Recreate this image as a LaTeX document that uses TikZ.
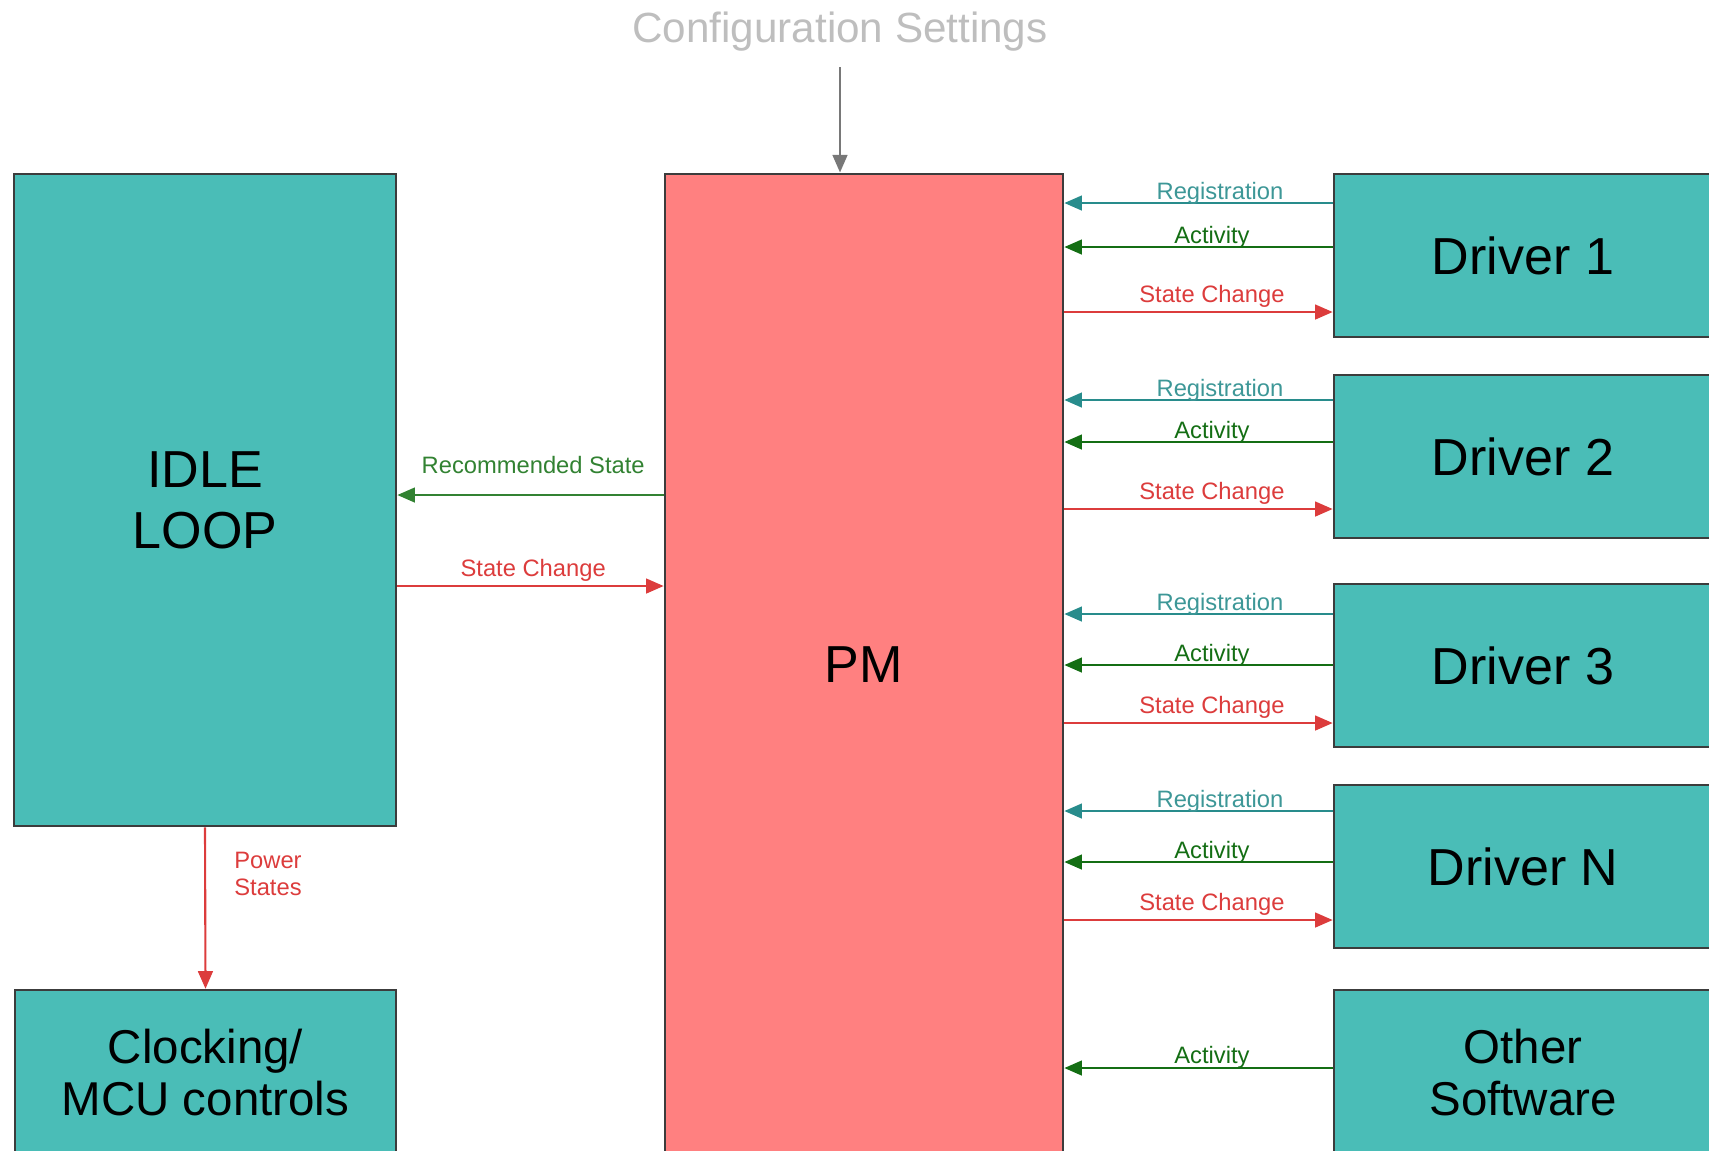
\documentclass[tikz,border=0pt]{standalone}
\usepackage{fontspec}
\setmainfont{Liberation Sans}
\usetikzlibrary{arrows.meta}
\definecolor{boxteal}{RGB}{74,189,183}
\definecolor{pmred}{RGB}{255,128,128}
\definecolor{boxline}{RGB}{60,60,60}
\definecolor{regcol}{RGB}{40,140,140}
\definecolor{actcol}{RGB}{20,110,20}
\definecolor{sccol}{RGB}{220,60,60}
\definecolor{reccol}{RGB}{50,130,50}
\definecolor{cfgcol}{RGB}{120,120,120}
\definecolor{cfgtext}{RGB}{190,190,190}
\tikzset{%
  block/.style  = {shape=rectangle, draw=boxline, line width=0.7pt,%
                   fill=boxteal, align=center, inner sep=0pt,%
                   font=\fontsize{14.8}{17.4}\selectfont},%
  pmblock/.style = {block, fill=pmred},%
  smallblock/.style = {block, font=\fontsize{13.5}{14.8}\selectfont},%
  lbl/.style    = {inner sep=0pt, anchor=base, font=\fontsize{6.75}{7.7}\selectfont},%
  flow/.style   = {line width=0.6pt, -{Triangle[length=5pt,width=4.2pt]}},%
  reg/.style    = {flow, draw=regcol},%
  act/.style    = {flow, draw=actcol},%
  sc/.style     = {flow, draw=sccol},%
  rec/.style    = {flow, draw=reccol}%
}

\begin{document}
\begin{tikzpicture}[x=0.01cm,y=-0.01cm]
	\path[use as bounding box, clip] (0,0) rectangle (1709,1150);
	\node [block, minimum width=3.82cm, minimum height=6.52cm] (idle) at (205,500) {IDLE\\LOOP};
	\node [smallblock, minimum width=3.81cm, minimum height=1.65cm] (clock) at (205.5,1072.5) {Clocking/\\MCU controls};
	\node [pmblock, minimum width=3.98cm, minimum height=9.82cm] (pm) at (864,665) {PM};
	\node [block, minimum width=3.78cm, minimum height=1.63cm] (drv1) at (1523,255.5) {Driver 1};
	\node [block, minimum width=3.78cm, minimum height=1.63cm] (drv2) at (1523,456.5) {Driver 2};
	\node [block, minimum width=3.78cm, minimum height=1.63cm] (drv3) at (1523,665.5) {Driver 3};
	\node [block, minimum width=3.78cm, minimum height=1.63cm] (drvn) at (1523,866.5) {Driver N};
	\node [smallblock, minimum width=3.78cm, minimum height=1.65cm] (other) at (1523,1072.5) {Other\\Software};
	\node [inner sep=0pt, anchor=base, text=cfgtext, font=\fontsize{12}{14}\selectfont] (config) at (840,42) {Configuration Settings};

	\draw [flow, draw=cfgcol] (config.south |- 0,67) -- (config.south |- pm.north);

	\foreach \d/\r/\a/\s in {drv1/203/247/312, drv2/400/442/509, drv3/614/665/723, drvn/811/862/920}{
		\draw [reg] (\d.west |- 0,\r) -- (pm.east |- 0,\r)
			node [lbl, pos=.42, yshift=1.1pt, text=regcol!90!white] {Registration};
		\draw [act] (\d.west |- 0,\a) -- (pm.east |- 0,\a)
			node [lbl, pos=.45, yshift=1.1pt, text=actcol] {Activity};
		\draw [sc] (pm.east |- 0,\s) -- (\d.west |- 0,\s)
			node [lbl, pos=.55, yshift=2.8pt, text=sccol] {State Change};
	}
	\draw [act] (other.west |- 0,1068) -- (pm.east |- 0,1068)
		node [lbl, pos=.45, yshift=1.4pt, text=actcol] {Activity};

	\draw [rec] (pm.west |- 0,495) -- (idle.east |- 0,495)
		node [lbl, pos=.49, yshift=6.2pt, text=reccol] {Recommended State};
	\draw [sc] (idle.east |- 0,586) -- (pm.west |- 0,586)
		node [lbl, pos=.51, yshift=2.6pt, text=sccol] {State Change};
	\draw [sc] (idle.south) -- (clock.north)
		node [lbl, anchor=west, align=left, pos=.29, xshift=8pt, text=sccol] {Power\\States};
\end{tikzpicture}
\end{document}
